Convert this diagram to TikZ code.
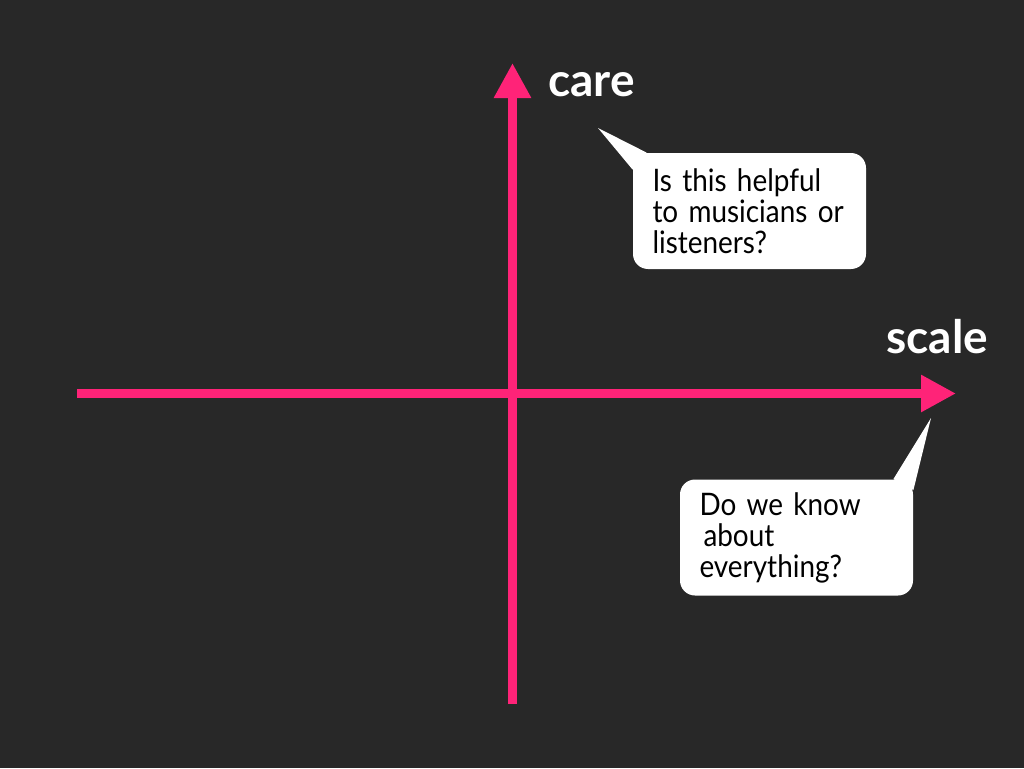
\documentclass[tikz,border=0pt]{standalone}
\usepackage{fontspec}
\setmainfont{Lato}
\newfontfamily\bubblefont[FakeStretch=0.9]{Lato}
\usetikzlibrary{arrows.meta}
\definecolor{slidebg}{HTML}{282828}
\definecolor{axispink}{HTML}{FF2378}

\begin{document}
\begin{tikzpicture}[x=0.5pt,y=0.5pt,
axis/.style={
	% The line:
	line width=4.5pt,
	draw=axispink,
	% The tip:
	-{Triangle[length=17.5pt,width=17.5pt]}},
axislabel/.style={
	% Text:
	text=white,
	font=\fontsize{23}{25}\selectfont\bfseries,
	inner sep=0pt},
bubble/.style={
	% The shape:
	rectangle,rounded corners=7.5pt,
	minimum width=116.5pt,minimum height=58pt,
	inner xsep=9.5pt,
	% The filling:
	fill=white,
	% Text:
	text width=97pt,align=left,
	font=\bubblefont\fontsize{15.5}{15.5}\selectfont},
tail/.style={fill=white}]

% background
\fill[slidebg] (0,0) rectangle (1024,768);
\useasboundingbox (0,0) rectangle (1024,768);

% axes
\coordinate (west) at (77,374.5);
\coordinate (east) at (956,374.5);
\coordinate (south) at (512.5,64.4);
\coordinate (north) at (512.5,705);
\draw[axis] (west) -- (east);
\draw[axis] (south) -- (north);

\node (care) [axislabel,anchor=base west] at (548,671) {care};
\node (scale) [axislabel,anchor=base west] at (886,415) {scale};

% callouts
\coordinate (caretip) at (598,640);
\coordinate (scaletip) at (931,350);
\node (helpful) [bubble] at (749.5,557) {Is this helpful\\to musicians or\\listeners?};
\node (know) [bubble] at (796.5,230.5) {Do we know\\\hspace{2pt}about\\everything?};
\fill[tail] (caretip) -- ([xshift=7pt]helpful.north west)
	-- ([yshift=-8.5pt]helpful.north west) -- cycle;
\fill[tail] (scaletip) -- ([xshift=-10pt]know.north east)
	-- ([yshift=-5.5pt]know.north east) -- cycle;
\end{tikzpicture}
\end{document}
